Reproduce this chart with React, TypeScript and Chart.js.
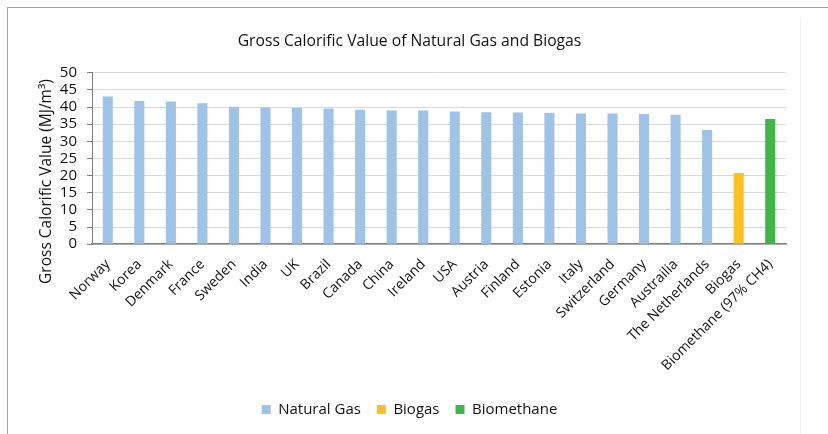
import React, { useEffect, useRef } from "react";
import { Chart, registerables } from "chart.js";

Chart.register(...registerables);

const categories = [
  "Norway", "Korea", "Denmark", "France", "Sweden", "India", "UK", "Brazil",
  "Canada", "China", "Ireland", "USA", "Austria", "Finland", "Estonia", "Italy",
  "Switzerland", "Germany", "Austrailia", "The Netherlands", "Biogas",
  "Biomethane (97% CH4)",
];

const naturalGasValues = [
  43.1, 41.8, 41.6, 41.1, 40.1, 39.9, 39.8, 39.6, 39.2, 39.0, 39.0, 38.7,
  38.5, 38.4, 38.3, 38.1, 38.1, 38.0, 37.8, 33.3,
];
const biogasValues = [20.8];
const biomethaneValues = [36.5];

const yTicks = { min: 0, max: 50, step: 5 };
const yTitle = "Gross Calorific Value (MJ/m³)";

const FONT = "'Open Sans', sans-serif";

const yTitlePlugin = {
  id: "yTitleOffset",
  afterDraw(chart: any) {
    const { ctx, chartArea } = chart;
    ctx.save();
    ctx.font = `15.5px ${FONT}`;
    ctx.fillStyle = "#111";
    ctx.textAlign = "center";
    ctx.textBaseline = "middle";
    ctx.translate(47, (chartArea.top + chartArea.bottom) / 2 + 23);
    ctx.rotate(-Math.PI / 2);
    ctx.fillText(yTitle, 0, 0);
    ctx.restore();
  },
};

export default function App() {
  const canvasRef = useRef<HTMLCanvasElement | null>(null);

  useEffect(() => {
    if (!canvasRef.current) return;
    const ng = categories.map((_, i) => (i < naturalGasValues.length ? naturalGasValues[i] : null));
    const bg = categories.map((_, i) =>
      i >= naturalGasValues.length && i < naturalGasValues.length + biogasValues.length
        ? biogasValues[i - naturalGasValues.length]
        : null
    );
    const bmStart = naturalGasValues.length + biogasValues.length;
    const bm = categories.map((_, i) => (i >= bmStart ? biomethaneValues[i - bmStart] ?? null : null));

    const common = {
      grouped: false,
      categoryPercentage: 1,
      barPercentage: 0.32,
      borderWidth: 0,
    };

    const chart = new Chart(canvasRef.current, {
      type: "bar",
      data: {
        labels: categories,
        datasets: [
          { label: "Natural Gas", data: ng, backgroundColor: "#9DC3E6", ...common },
          { label: "Biogas", data: bg, backgroundColor: "#FFBF1F", ...common },
          { label: "Biomethane", data: bm, backgroundColor: "#41B549", ...common },
        ],
      },
      plugins: [yTitlePlugin],
      options: {
        animation: false,
        responsive: false,
        maintainAspectRatio: false,
        layout: { padding: { left: 33, right: 42, top: 0, bottom: 7 } },
        plugins: {
          tooltip: { enabled: false },
          title: {
            display: true,
            text: "Gross Calorific Value of Natural Gas and Biogas",
            color: "#111",
            font: { family: FONT, size: 15.7, weight: "normal" },
            padding: { top: 32, bottom: 22 },
          },
          legend: {
            position: "bottom",
            labels: {
              color: "#111",
              font: { family: FONT, size: 15 },
              boxWidth: 9,
              boxHeight: 9,
              padding: 16,
            },
          },
        },
        scales: {
          x: {
            grid: { display: false, drawTicks: false },
            border: { display: true, color: "#7f7f7f", width: 1.5 },
            ticks: {
              color: "#111",
              font: { family: FONT, size: 14 },
              minRotation: 45,
              maxRotation: 45,
              autoSkip: false,
              padding: 12,
            },
          },
          y: {
            min: yTicks.min,
            max: yTicks.max,
            afterFit(scale: any) {
              scale.width = 59;
            },
            ticks: {
              stepSize: yTicks.step,
              autoSkip: false,
              color: "#111",
              font: { family: FONT, size: 15 },
              padding: 10,
            },
            grid: { color: "#d9d9d9", lineWidth: 1, tickColor: "#7f7f7f", tickLength: 5 },
            border: { display: true, color: "#7f7f7f", width: 1 },
          },
        },
      },
    });
    return () => chart.destroy();
  }, []);

  return (
    <div style={{ position: "fixed", left: 0, top: 0, width: 828, height: 434, background: "#fff", overflow: "hidden" }}>
      <div
        style={{
          position: "absolute",
          left: 7,
          top: 7,
          width: 900,
          height: 600,
          borderLeft: "1.5px solid #a6a6a6",
          borderTop: "1.5px solid #a6a6a6",
        }}
      />
      <div style={{ position: "absolute", left: 800, top: 18, width: 1, height: 420, background: "#f2f2f2" }} />
      <canvas ref={canvasRef} width={828} height={434} style={{ position: "absolute", left: 0, top: 0 }} />
    </div>
  );
}
